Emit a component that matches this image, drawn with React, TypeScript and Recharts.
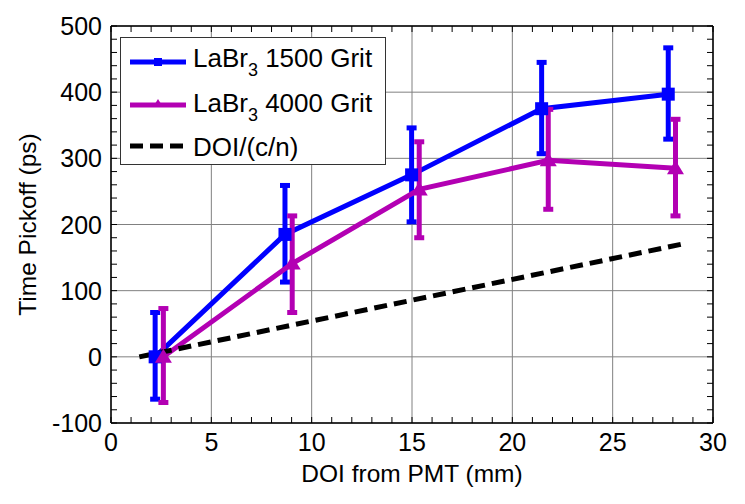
import React from "react";
import {
  CartesianGrid,
  ComposedChart,
  ErrorBar,
  Label,
  Legend,
  Line,
  XAxis,
  YAxis,
} from "recharts";

// LaBr3 1500 grit
const blueDoi = [2.2, 8.67, 14.98, 21.46, 27.77];
const blueTime = [0, 185, 275, 375, 397];
const blueErrLow = [64, 72, 71, 68, 68];
const blueErrHigh = [67, 74, 71, 70, 70];

// LaBr3 4000 grit
const magDoi = [2.61, 9.03, 15.36, 21.79, 28.13];
const magTime = [0, 141, 253, 297, 285];
const magErrLow = [69, 74, 73, 74, 72];
const magErrHigh = [73, 72, 72, 77, 74];

// DOI/(c/n) reference line
const refDoi = [1.41, 28.57];
const refTime = [0, 171];

const legendLabels = ["1500 Grit", "4000 Grit", "DOI/(c/n)"];

const xMajor = [0, 5, 10, 15, 20, 25, 30];
const xMinor = [
  0, 1, 2, 3, 4, 5, 6, 7, 8, 9, 10, 11, 12, 13, 14, 15, 16, 17, 18, 19, 20,
  21, 22, 23, 24, 25, 26, 27, 28, 29, 30,
];
const yMajor = [-100, 0, 100, 200, 300, 400, 500];
const yMinor = [
  -100, -80, -60, -40, -20, 0, 20, 40, 60, 80, 100, 120, 140, 160, 180, 200,
  220, 240, 260, 280, 300, 320, 340, 360, 380, 400, 420, 440, 460, 480, 500,
];

const BLUE = "#0000ff";
const MAGENTA = "#b300b3";
const FONT = '"Liberation Sans", Arial, sans-serif';

const blueData = blueDoi.map((x, i) => ({
  x,
  y: blueTime[i],
  err: [blueErrLow[i], blueErrHigh[i]],
}));
const magData = magDoi.map((x, i) => ({
  x,
  y: magTime[i],
  err: [magErrLow[i], magErrHigh[i]],
}));
const refData = refDoi.map((x, i) => ({ x, y: refTime[i] }));

const SquareDot = (props: any) => {
  const { cx, cy, index } = props;
  if (cx == null || cy == null) return null;
  return <rect key={`sq-${index}`} x={cx - 6.5} y={cy - 6.5} width={13} height={13} fill={BLUE} />;
};

const TriangleDot = (props: any) => {
  const { cx, cy, index } = props;
  if (cx == null || cy == null) return null;
  return (
    <polygon
      key={`tri-${index}`}
      points={`${cx},${cy - 8} ${cx - 8.5},${cy + 6} ${cx + 8.5},${cy + 6}`}
      fill={MAGENTA}
    />
  );
};

const BottomTick = (props: any) => {
  const { x, y, payload } = props;
  const v = payload.value;
  return (
    <g>
      <line x1={x} y1={y} x2={x} y2={y - 6} stroke="#000" strokeWidth={1} />
      {xMajor.includes(v) && (
        <text x={x} y={y + 28} textAnchor="middle" fontSize={25} fontFamily={FONT} fill="#000">
          {v}
        </text>
      )}
    </g>
  );
};

const TopTick = (props: any) => {
  const { x, y } = props;
  return <line x1={x} y1={y} x2={x} y2={y + 6} stroke="#000" strokeWidth={1} />;
};

const LeftTick = (props: any) => {
  const { x, y, payload } = props;
  const v = payload.value;
  return (
    <g>
      <line x1={x} y1={y} x2={x + 6} y2={y} stroke="#000" strokeWidth={1} />
      {yMajor.includes(v) && (
        <text x={x - 9} y={y + 9} textAnchor="end" fontSize={25} fontFamily={FONT} fill="#000">
          {v}
        </text>
      )}
    </g>
  );
};

const RightTick = (props: any) => {
  const { x, y } = props;
  return <line x1={x} y1={y} x2={x - 6} y2={y} stroke="#000" strokeWidth={1} />;
};

const XTitle = () => (
  <text x={412} y={482} textAnchor="middle" fontSize={24.5} fontFamily={FONT} fill="#000">
    DOI from PMT (mm)
  </text>
);

const YTitle = () => (
  <text
    transform="translate(36, 224.5) rotate(-90)"
    textAnchor="middle"
    fontSize={24.5}
    fontFamily={FONT}
    fill="#000"
  >
    Time Pickoff (ps)
  </text>
);

const LaBr = ({ x, y, rest }: { x: number; y: number; rest: string }) => (
  <text x={x} y={y} fontSize={26} fontFamily={FONT} fill="#000">
    LaBr
    <tspan fontSize={18} dy={9}>3</tspan>
    <tspan dy={-9}>{" " + rest}</tspan>
  </text>
);

const renderLegend = () => (
  <svg width={266} height={129} style={{ display: "block" }}>
    <rect x={0.5} y={0.5} width={265} height={127} fill="#fff" stroke="#333" strokeWidth={1} />
    <line x1={10} y1={25} x2={66} y2={25} stroke={BLUE} strokeWidth={5} />
    <rect x={34} y={21} width={8} height={8} fill={BLUE} />
    <LaBr x={73} y={30} rest={legendLabels[0]} />
    <line x1={10} y1={68} x2={66} y2={68} stroke={MAGENTA} strokeWidth={5} />
    <polygon points="38,62 33,70 43,70" fill={MAGENTA} />
    <LaBr x={73} y={75} rest={legendLabels[1]} />
    <line x1={10} y1={109} x2={66} y2={109} stroke="#000" strokeWidth={5} strokeDasharray="13 7" />
    <text x={73} y={119} fontSize={26} fontFamily={FONT} fill="#000">
      {legendLabels[2]}
    </text>
  </svg>
);

export default function App() {
  return (
    <div style={{ position: "absolute", left: 0, top: 0, background: "#fff" }}>
      <ComposedChart
        width={745}
        height={504}
        margin={{ top: 25, right: 31, bottom: 80, left: 110 }}
      >
        <CartesianGrid
          xAxisId="b"
          yAxisId="l"
          verticalValues={xMajor}
          horizontalValues={yMajor}
          stroke="#808080"
          strokeWidth={1}
        />
        <XAxis
          xAxisId="b"
          dataKey="x"
          type="number"
          domain={[0, 30]}
          ticks={xMinor}
          interval={0}
          height={1}
          tickSize={0}
          tickMargin={0}
          tickLine={false}
          tick={BottomTick}
          axisLine={{ stroke: "#000", strokeWidth: 1.5 }}
          allowDataOverflow
        >
          <Label content={XTitle} />
        </XAxis>
        <XAxis
          xAxisId="t"
          orientation="top"
          dataKey="x"
          type="number"
          domain={[0, 30]}
          ticks={xMinor}
          interval={0}
          height={1}
          tickSize={0}
          tickMargin={0}
          tickLine={false}
          tick={TopTick}
          axisLine={{ stroke: "#000", strokeWidth: 1.5 }}
          allowDataOverflow
        />
        <YAxis
          yAxisId="l"
          type="number"
          domain={[-100, 500]}
          ticks={yMinor}
          interval={0}
          width={1}
          tickSize={0}
          tickMargin={0}
          tickLine={false}
          tick={LeftTick}
          axisLine={{ stroke: "#000", strokeWidth: 1.5 }}
          allowDataOverflow
        >
          <Label content={YTitle} />
        </YAxis>
        <YAxis
          yAxisId="r"
          orientation="right"
          type="number"
          domain={[-100, 500]}
          ticks={yMinor}
          interval={0}
          width={1}
          tickSize={0}
          tickMargin={0}
          tickLine={false}
          tick={RightTick}
          axisLine={{ stroke: "#000", strokeWidth: 1.5 }}
          allowDataOverflow
        />
        <Legend
          layout="vertical"
          align="center"
          verticalAlign="middle"
          wrapperStyle={{ left: 120, top: 37, width: 266, height: 129 }}
          content={renderLegend}
        />
        <Line
          xAxisId="b"
          yAxisId="l"
          data={blueData}
          dataKey="y"
          type="linear"
          stroke={BLUE}
          strokeWidth={5}
          dot={SquareDot}
          activeDot={false}
          isAnimationActive={false}
        >
          <ErrorBar dataKey="err" direction="y" width={5} stroke={BLUE} strokeWidth={5} />
        </Line>
        <Line
          xAxisId="b"
          yAxisId="l"
          data={magData}
          dataKey="y"
          type="linear"
          stroke={MAGENTA}
          strokeWidth={5}
          dot={TriangleDot}
          activeDot={false}
          isAnimationActive={false}
        >
          <ErrorBar dataKey="err" direction="y" width={5} stroke={MAGENTA} strokeWidth={5} />
        </Line>
        <Line
          xAxisId="b"
          yAxisId="l"
          data={refData}
          dataKey="y"
          type="linear"
          stroke="#000"
          strokeWidth={5}
          strokeDasharray="13 7"
          dot={false}
          activeDot={false}
          isAnimationActive={false}
        />
      </ComposedChart>
    </div>
  );
}
